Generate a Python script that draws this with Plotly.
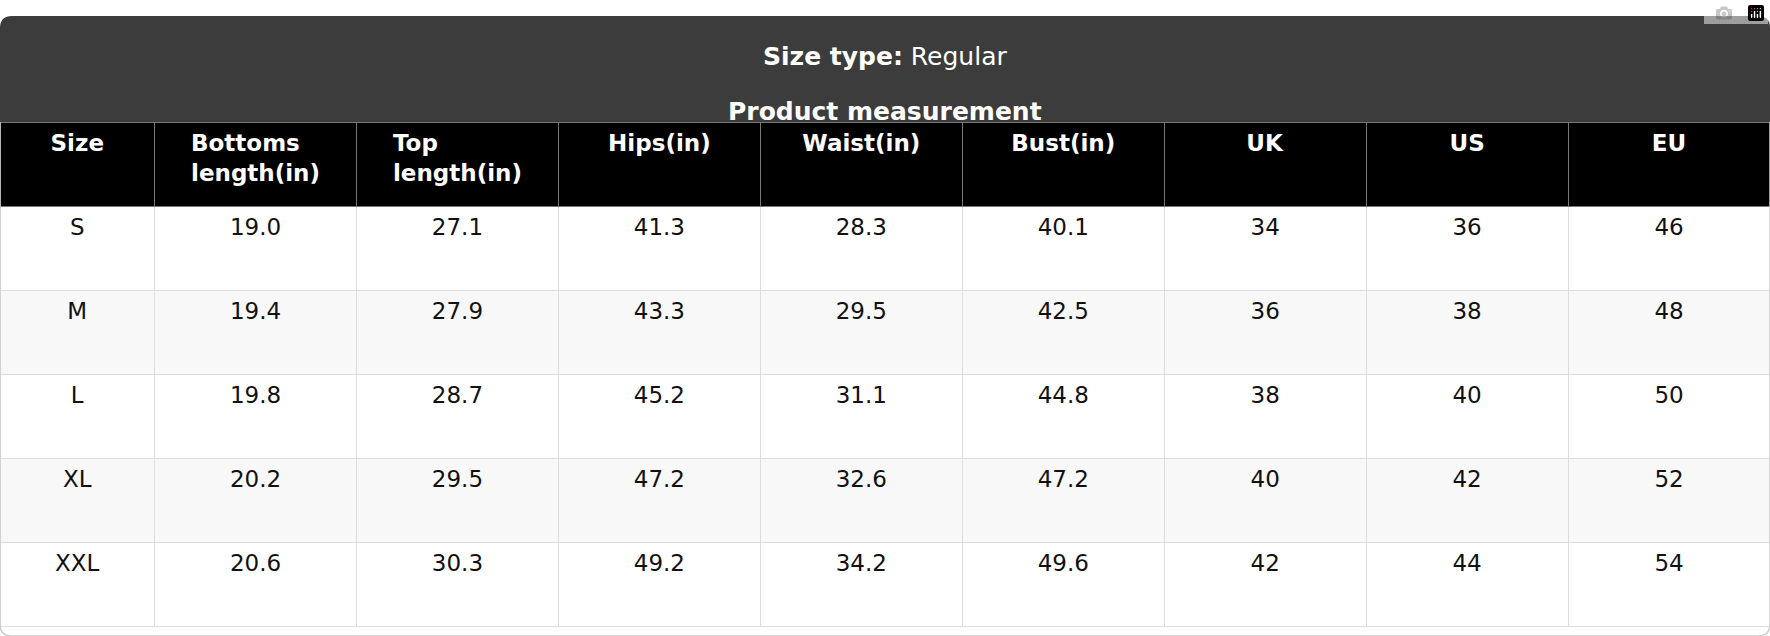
import plotly.graph_objects as go

W, H = 1770, 636

columns = ["Size", "Bottoms<br>length(in)", "Top<br>length(in)", "Hips(in)", "Waist(in)",
           "Bust(in)", "UK", "US", "EU"]
sizes = ["S", "M", "L", "XL", "XXL"]
bottoms_length = ["19.0", "19.4", "19.8", "20.2", "20.6"]
top_length = ["27.1", "27.9", "28.7", "29.5", "30.3"]
hips = ["41.3", "43.3", "45.2", "47.2", "49.2"]
waist = ["28.3", "29.5", "31.1", "32.6", "34.2"]
bust = ["40.1", "42.5", "44.8", "47.2", "49.6"]
uk = ["34", "36", "38", "40", "42"]
us = ["36", "38", "40", "42", "44"]
eu = ["46", "48", "50", "52", "54"]

size_type = "Regular"
subtitle = "Product measurement"

col_widths = [137] + [179] * 8
row_fill = (["#ffffff", "#f8f8f8"] * 3)[:len(sizes)]


# plotly tables have no vertical centring, so push one-line text down a line
def mid(vals):
    return ["<br>" + v for v in vals]


header_vals = [f"<b>{c}</b>" if "<br>" in c else f"<br><b>{c}</b>" for c in columns]
body = [sizes, bottoms_length, top_length, hips, waist, bust, uk, us, eu]

top_px, head_px = 16, 122
fig = go.Figure(go.Table(
    domain=dict(x=[0, 1], y=[0, 1 - head_px / H]),
    columnwidth=col_widths,
    header=dict(values=header_vals, fill_color="#000000",
                line=dict(color="#777777", width=1), height=84, align="center",
                font=dict(family="DejaVu Sans", size=23, color="white")),
    cells=dict(values=[mid(v) for v in body],
               fill_color=[row_fill], line=dict(color="#dddddd", width=1), height=84,
               align="center", font=dict(family="DejaVu Sans", size=23, color="#111111")),
))

# dark title band with rounded top corners (paper coords)
rx, ry = 12 / W, 12 / H
y0, y1 = 1 - head_px / H, 1 - top_px / H
band = (f"M 0,{y0} L 0,{y1 - ry} Q 0,{y1} {rx},{y1} L {1 - rx},{y1} "
        f"Q 1,{y1} 1,{y1 - ry} L 1,{y0} Z")
fig.add_shape(type="path", xref="paper", yref="paper", path=band,
              fillcolor="#3c3c3c", line=dict(width=0), layer="below")
border = (f"M 0,{y0} L 0,{ry} Q 0,0 {rx},0 L {1 - rx},0 Q 1,0 1,{ry} L 1,{y0}")
fig.add_shape(type="path", xref="paper", yref="paper", path=border,
              line=dict(color="#cccccc", width=1.5), layer="above")

fig.add_annotation(x=0.5, y=1 - 40 / H, xref="paper", yref="paper", showarrow=False,
                   text=f"<b>Size type:</b> {size_type}",
                   font=dict(family="DejaVu Sans", size=25, color="white"))
fig.add_annotation(x=0.5, y=1 - 95 / H, xref="paper", yref="paper", showarrow=False,
                   text=f"<b>{subtitle}</b>",
                   font=dict(family="DejaVu Sans", size=25, color="white"))

fig.update_layout(width=W, height=H, margin=dict(l=0, r=0, t=0, b=0),
                  paper_bgcolor="white", plot_bgcolor="white")
fig.write_html("out.html", post_script="document.body.style.margin='0';")
